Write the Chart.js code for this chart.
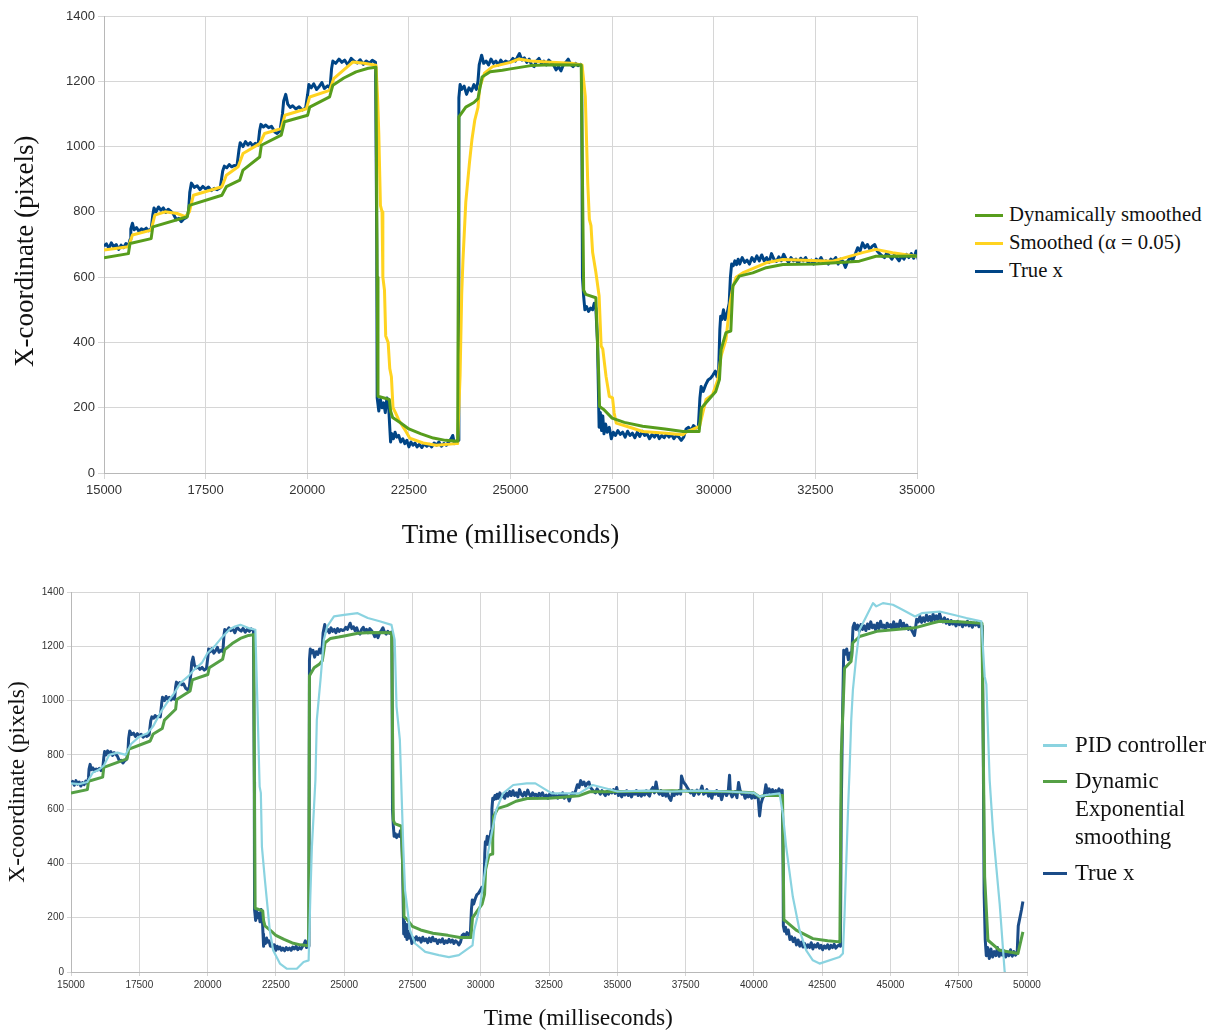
<!DOCTYPE html>
<html>
<head>
<meta charset="utf-8">
<script src="https://cdn.jsdelivr.net/npm/chart.js@4.4.0/dist/chart.umd.min.js"></script>
<style>
html,body{margin:0;padding:0;background:#fff;width:1212px;height:1033px;overflow:hidden;}
canvas{position:absolute;}
.leg{position:absolute;font-family:"Liberation Serif","Times New Roman",serif;color:#111;}
.leg .sw{position:absolute;height:3px;}
.leg .tx{position:absolute;white-space:nowrap;}
</style>
</head>
<body>
<canvas id="c1" width="960" height="560" style="left:0;top:0;width:960px;height:560px"></canvas>
<canvas id="c2" width="1050" height="473" style="left:0;top:560px;width:1050px;height:473px"></canvas>
<div class="leg" id="leg1"></div>
<div class="leg" id="leg2"></div>
<script>
// ---------- DATA (time in ms, x-coordinate in pixels) ----------
const xTicksTop = [15000,17500,20000,22500,25000,27500,30000,32500,35000];
const xTicksBottom = [15000,17500,20000,22500,25000,27500,30000,32500,35000,37500,40000,42500,45000,47500,50000];
const yTicks = [0,200,400,600,800,1000,1200,1400];

const labelsTop = ["Dynamically smoothed","Smoothed (\u03b1 = 0.05)","True x"];
const labelsBottom = ["PID controller","Dynamic Exponential smoothing","True x"];

const trueX = [
[15000,695],[15060,702],[15120,688],[15180,705],[15240,692],[15300,700],[15360,685],[15420,698],[15480,690],[15540,703],[15600,695],
[15640,715],[15660,748],[15700,765],[15740,745],[15800,752],[15860,740],[15920,748],[15980,744],[16040,750],[16100,742],[16160,748],
[16200,790],[16230,812],[16280,800],[16340,815],[16400,805],[16460,812],[16520,798],[16580,808],[16640,802],[16700,795],[16780,776],[16840,780],[16900,770],[16960,778],[17020,782],[17080,800],
[17110,860],[17150,888],[17220,875],[17290,880],[17360,868],[17430,878],[17500,870],[17570,876],[17640,865],[17710,872],[17780,868],[17860,874],
[17920,925],[17960,940],[18020,935],[18080,945],[18140,938],[18200,942],[18270,940],
[18320,990],[18350,1012],[18420,1000],[18480,1015],[18540,1005],[18600,1012],[18660,1002],[18720,1010],[18790,1005],
[18830,1050],[18860,1068],[18920,1060],[18980,1066],[19050,1058],[19120,1062],[19200,1045],[19260,1040],[19330,1048],
[19390,1100],[19420,1140],[19470,1160],[19520,1130],[19580,1120],[19640,1125],[19720,1115],[19800,1122],[19880,1112],[19960,1118],
[20010,1160],[20040,1190],[20100,1180],[20160,1192],[20230,1175],[20300,1185],[20360,1196],[20420,1178],[20500,1186],[20560,1180],
[20600,1240],[20630,1262],[20700,1255],[20780,1268],[20850,1258],[20920,1265],[21000,1250],[21080,1270],[21150,1262],[21230,1256],[21300,1266],[21380,1252],[21450,1262],[21530,1255],[21600,1264],[21680,1258],
[21710,700],[21720,230],[21760,190],[21800,225],[21840,200],[21880,215],[21920,185],[21960,230],[22000,210],[22030,140],[22050,95],[22080,120],[22120,105],[22160,125],[22200,110],[22250,115],[22300,95],[22350,105],[22400,90],[22450,100],[22500,80],[22550,95],[22600,85],[22650,92],[22700,80],[22760,88],[22820,78],[22880,90],[22940,82],[23000,88],[23060,80],[23120,92],[23180,85],[23240,95],[23300,82],[23360,90],[23420,85],[23480,95],[23540,105],[23580,115],[23620,90],[23680,95],[23710,100],
[23730,1150],[23760,1190],[23800,1175],[23860,1185],[23920,1160],[23980,1180],[24040,1170],[24100,1190],[24160,1175],[24200,1200],[24230,1250],[24290,1280],[24340,1255],[24400,1262],[24460,1250],[24520,1268],[24580,1255],[24640,1262],[24700,1250],[24760,1265],[24820,1255],[24880,1262],[24940,1258],[25000,1260],[25060,1270],[25120,1262],[25220,1285],[25280,1265],[25340,1272],[25400,1258],[25460,1268],[25520,1250],[25580,1245],[25640,1262],[25700,1270],[25760,1255],[25820,1262],[25880,1250],[25940,1265],[26000,1258],[26060,1250],[26120,1235],[26180,1245],[26240,1232],[26300,1250],[26360,1258],[26420,1268],[26480,1252],[26540,1245],[26600,1255],[26660,1248],[26720,1252],[26750,1245],
[26770,600],[26800,540],[26830,500],[26870,510],[26920,495],[26970,505],[27020,500],[27060,520],[27100,505],[27140,400],[27180,140],[27210,185],[27240,130],[27270,175],[27300,120],[27340,150],[27380,125],[27430,140],[27480,105],[27530,125],[27580,115],[27640,130],[27700,118],[27760,125],[27820,110],[27880,128],[27940,115],[28000,122],[28060,108],[28120,125],[28180,112],[28240,128],[28300,115],[28360,120],[28420,105],[28480,118],[28540,110],[28600,122],[28660,105],[28720,115],[28780,108],[28840,120],[28900,110],[28960,118],[29020,105],[29080,115],[29140,110],[29200,100],[29260,110],[29320,135],[29380,140],[29440,130],[29500,145],[29560,138],[29620,140],
[29660,230],[29690,265],[29740,250],[29800,270],[29860,285],[29920,290],[29980,300],[30040,312],[30080,295],[30120,310],[30150,440],[30170,480],[30200,470],[30240,500],[30280,470],[30330,490],[30380,520],[30410,600],[30440,640],[30480,635],[30520,650],[30560,638],[30600,655],[30640,640],[30700,660],[30760,645],[30820,652],[30880,640],[30940,660],[31000,648],[31060,665],[31120,650],[31180,668],[31240,650],[31300,660],[31360,645],[31420,672],[31480,655],[31540,648],[31600,662],[31660,650],[31720,670],[31780,655],[31840,645],[31900,660],[31960,650],[32020,655],[32080,642],[32140,658],[32200,650],[32260,660],[32320,645],[32400,652],[32460,640],[32520,655],[32580,648],[32640,660],[32700,645],[32760,650],[32820,640],[32880,655],[32940,650],[33000,660],[33060,640],[33120,655],[33180,648],[33240,630],[33300,650],[33360,660],[33420,652],[33480,670],[33540,690],[33600,680],[33660,705],[33720,690],[33780,700],[33840,685],[33900,695],[33960,700],[34020,680],[34080,672],[34140,665],[34200,660],[34260,675],[34320,665],[34380,655],[34440,668],[34500,660],[34560,650],[34620,665],[34680,655],[34740,670],[34800,660],[34860,672],[34920,658],[34980,680],
[35040,650],[35100,665],[35160,645],[35220,660],[35280,652],[35340,668],[35400,650],[35460,662],[35520,645],[35580,660],[35640,655],[35700,668],[35760,650],[35820,662],[35880,648],[35940,660],[36000,652],[36060,668],[36120,655],[36180,648],[36240,670],[36300,680],[36360,660],[36420,700],[36480,665],[36540,655],[36600,668],[36660,650],[36720,662],[36780,648],[36840,660],[36900,642],[36960,632],[37020,660],[37080,650],[37140,665],[37200,655],[37260,668],[37320,655],[37350,722],[37420,700],[37500,690],[37560,680],[37620,670],[37680,660],[37740,668],[37800,650],[37860,662],[37920,670],[37980,655],[38040,665],[38100,685],[38160,655],[38220,660],[38280,672],[38340,648],[38400,660],[38460,640],[38520,665],[38580,655],[38640,668],[38700,650],[38760,660],[38820,635],[38880,658],[38940,665],[39000,650],[39060,662],[39110,725],[39140,660],[39200,645],[39260,655],[39320,665],[39380,642],[39440,698],[39500,668],[39560,655],[39620,660],[39680,640],[39740,652],[39800,645],[39860,655],[39920,640],[39980,650],[40040,642],[40100,650],[40160,638],[40210,575],[40260,620],[40320,640],[40380,650],[40440,690],[40500,660],[40560,675],[40620,660],[40680,672],[40740,655],[40800,668],[40860,660],[40920,675],[40980,662],[41040,670],
[41070,400],[41080,170],[41120,150],[41160,165],[41200,140],[41260,155],[41320,120],[41380,130],[41440,112],[41500,125],[41560,100],[41620,118],[41680,95],[41740,110],[41800,92],[41860,105],[41920,88],[41980,100],[42040,90],[42100,108],[42160,85],[42220,100],[42280,92],[42340,105],[42400,88],[42460,98],[42520,82],[42580,96],[42640,88],[42700,100],[42760,85],[42820,98],[42880,90],[42940,102],[43000,88],[43060,95],[43120,100],[43170,95],
[43200,600],[43240,900],[43290,1185],[43340,1170],[43400,1190],[43460,1150],[43520,1175],[43580,1160],[43630,1270],[43680,1285],[43740,1262],[43800,1278],[43860,1255],[43920,1280],[43980,1262],[44040,1275],[44100,1258],[44160,1282],[44220,1265],[44280,1290],[44340,1268],[44400,1278],[44460,1260],[44520,1285],[44580,1265],[44640,1292],[44700,1270],[44760,1278],[44820,1260],[44880,1285],[44940,1272],[45000,1280],[45060,1262],[45120,1290],[45180,1268],[45240,1282],[45300,1270],[45360,1295],[45420,1272],[45480,1285],[45540,1265],[45600,1278],[45660,1262],[45720,1270],[45800,1255],[45880,1240],[45920,1268],[45960,1300],[46020,1290],[46080,1310],[46140,1288],[46200,1305],[46260,1292],[46320,1315],[46380,1295],[46440,1310],[46500,1290],[46560,1318],[46620,1298],[46680,1312],[46740,1295],[46800,1320],[46860,1300],[46920,1290],[46980,1305],[47040,1285],[47100,1298],[47160,1280],[47220,1295],[47280,1282],[47340,1290],[47400,1275],[47460,1292],[47520,1280],[47580,1288],[47640,1272],[47700,1285],[47760,1278],[47820,1292],[47880,1275],[47940,1288],[48000,1270],[48060,1285],[48120,1278],[48180,1290],[48240,1272],[48300,1285],[48360,1275],
[48400,800],[48430,290],[48470,120],[48510,60],[48560,90],[48620,50],[48680,85],[48740,55],[48800,75],[48860,60],[48920,90],[48980,58],[49040,80],[49100,62],[49160,78],[49220,55],[49280,72],[49340,60],[49400,82],[49460,58],[49520,75],[49580,62],[49640,70],[49680,170],[49740,200],[49800,230],[49850,260]
];

const dynSmoothed = [
[15000,659],[15600,672],[15640,703],[16160,718],[16200,754],[17050,785],[17100,820],[17900,851],[18010,877],[18340,897],[18420,928],[18830,968],[18870,1004],[19360,1035],[19440,1076],[20010,1096],[20060,1121],[20550,1152],[20630,1188],[20900,1210],[21200,1229],[21500,1240],[21690,1243],
[21720,600],[21740,235],[22020,225],[22050,190],[22100,170],[22300,153],[22500,135],[22800,120],[23100,107],[23400,100],[23700,97],
[23730,1091],[23900,1121],[24100,1135],[24200,1147],[24300,1213],[24500,1229],[24800,1234],[25000,1238],[25500,1248],[26000,1251],[26740,1250],
[26800,560],[26850,547],[27100,537],[27170,300],[27190,204],[27300,194],[27500,168],[27800,155],[28250,143],[28800,135],[29240,127],[29640,127],
[29700,200],[29730,204],[30050,250],[30140,286],[30180,378],[30300,430],[30420,435],[30440,491],[30470,573],[30630,603],[30960,613],[31290,629],[31700,639],[32500,640],[33000,644],[33580,649],[33990,664],[34500,664],[35000,665],[36000,665],[37000,668],[38000,665],[39000,665],[40000,660],[40200,646],[40400,650],[41050,650],
[41100,191],[41120,191],[41550,154],[42160,123],[42700,115],[43150,111],
[43200,800],[43320,1119],[43560,1144],[43620,1212],[43870,1236],[44500,1255],[45200,1262],[45900,1268],[46500,1285],[46800,1292],[47500,1290],[48350,1285],
[48450,350],[48570,117],[49000,80],[49670,68],[49850,148]
];

const smoothed05 = [
[15000,683],[15600,693],[15700,729],[16160,744],[16250,790],[16500,800],[16800,795],[17000,785],[17100,800],[17200,851],[17900,877],[18010,912],[18300,938],[18420,979],[18830,1009],[18950,1040],[19360,1055],[19450,1096],[19980,1116],[20060,1152],[20550,1172],[20650,1208],[21120,1259],[21400,1255],[21690,1249],
[21730,1150],[21760,1040],[21800,820],[21840,800],[21860,600],[21900,560],[21930,420],[21990,400],[22030,320],[22070,295],[22110,200],[22170,185],[22260,160],[22400,133],[22520,107],[22850,92],[23170,85],[23660,90],[23700,90],
[23730,200],[23760,300],[23800,550],[23830,650],[23900,830],[23990,950],[24050,1020],[24120,1080],[24200,1120],[24240,1180],[24360,1225],[24560,1245],[25000,1258],[25200,1268],[25500,1262],[26000,1258],[26500,1255],[26760,1250],
[26840,1154],[26900,889],[26940,777],[26980,758],[27020,676],[27100,615],[27180,542],[27230,389],[27270,380],[27350,296],[27430,235],[27510,230],[27550,184],[27600,153],[28010,137],[28250,127],[28830,122],[29240,117],[29320,125],[29650,143],
[29810,225],[29970,240],[30100,286],[30180,358],[30300,409],[30400,520],[30470,570],[30550,600],[30710,613],[31290,644],[31700,654],[32930,649],[33660,675],[33990,685],[34400,675],[34980,664]
];

const pidController = [
[15000,695],[15300,692],[15600,700],[15800,735],[16000,744],[16200,760],[16400,800],[16700,808],[17000,800],[17200,840],[17500,867],[17800,880],[18000,904],[18300,960],[18500,990],[18800,1030],[19000,1064],[19300,1090],[19500,1113],[19800,1140],[20000,1175],[20300,1205],[20500,1230],[20800,1262],[21000,1273],[21200,1279],[21500,1267],[21750,1261],
[21807,1052],[21906,683],[21950,660],[21990,461],[22100,338],[22277,154],[22400,80],[22648,31],[22896,12],[23267,12],[23515,37],[23700,43],
[23762,277],[23820,461],[23948,707],[24000,929],[24134,1076],[24257,1224],[24380,1273],[24628,1310],[25000,1316],[25495,1322],[25866,1304],[26300,1292],[26732,1279],
[26850,1224],[26918,978],[27040,855],[27165,461],[27230,301],[27412,154],[27600,105],[27970,74],[28465,62],[28836,55],[29200,62],[29700,98],
[29760,154],[29970,240],[30217,412],[30400,510],[30570,597],[30817,658],[31190,689],[31683,695],[32000,695],[32600,658],[33250,658],[33600,658],[34100,689],[34600,676],[35000,665],[36000,668],[37000,665],[38000,668],[39000,665],[40000,660],[40207,646],[40450,652],[40940,658],
[41061,584],[41183,461],[41427,277],[41672,154],[41916,80],[42160,43],[42405,31],[43137,55],[43260,68],
[43321,215],[43443,584],[43504,744],[43565,928],[43626,1039],[43748,1162],[43870,1261],[44115,1310],[44360,1359],[44482,1347],[44726,1359],[45092,1353],[45460,1334],[45900,1310],[46150,1322],[46800,1328],[47300,1316],[47780,1304],[48330,1292],
[48450,1089],[48511,1060],[48633,707],[48755,520],[49000,250],[49183,0],[49250,-40]
];

// ---------- HELPERS ----------
const pts = arr => arr.map(p => ({x:p[0], y:p[1]}));
const SERIF = '"Liberation Serif","Times New Roman",serif';
const SANS = '"Liberation Sans",Arial,sans-serif';

function makeChart(id, cfg){
  return new Chart(document.getElementById(id), {
    type:'line',
    data:{datasets:cfg.datasets},
    options:{
      responsive:false, animation:false, devicePixelRatio:1,
      layout:{padding:cfg.padding},
      plugins:{legend:{display:false}, tooltip:{enabled:false}},
      elements:{point:{radius:0}, line:{tension:0, borderJoinStyle:'round', borderCapStyle:'butt'}},
      scales:{
        x:{type:'linear', min:cfg.xTicks[0], max:cfg.xTicks[cfg.xTicks.length-1],
           afterBuildTicks: s => { s.ticks = cfg.xTicks.map(v=>({value:v})); },
           afterFit: s => { s.height = cfg.xH; },
           ticks:{color:'#333', font:{family:SANS, size:cfg.tickSize}, padding:cfg.xTickPad, maxRotation:0, autoSkip:false, callback:v=>String(v)},
           grid:{color:'#d6d6d6', lineWidth:1, tickLength:cfg.tickLen, drawTicks:true},
           border:{color:'#b8b8b8'},
           title:{display:true, text:cfg.xTitle, color:'#111', font:{family:SERIF, size:cfg.titleSize}, padding:{top:0,bottom:cfg.xTitlePad}}
        },
        y:{type:'linear', min:0, max:1400,
           afterBuildTicks: s => { s.ticks = yTicks.map(v=>({value:v})); },
           afterFit: s => { s.width = cfg.yW; },
           ticks:{color:'#333', font:{family:SANS, size:cfg.tickSize}, padding:3, callback:v=>String(v)},
           grid:{color:'#d6d6d6', lineWidth:1, tickLength:cfg.tickLen, drawTicks:true},
           border:{color:'#b8b8b8'},
           title:{display:true, text:cfg.yTitle, color:'#111', font:{family:SERIF, size:cfg.titleSize}, padding:{top:cfg.yTitlePad,bottom:0}}
        }
      }
    }
  });
}

// ---------- TOP CHART ----------
makeChart('c1', {
  xTicks:xTicksTop, padding:{top:16,right:43,left:0,bottom:0},
  xH:87, yW:104, tickSize:13, tickLen:6, xTickPad:4, titleSize:27, xTitlePad:8, yTitlePad:10,
  xTitle:'Time (milliseconds)', yTitle:'X-coordinate (pixels)\u2002',
  datasets:[
    {label:labelsTop[0], data:pts(dynSmoothed), borderColor:'#579d1c', borderWidth:3},
    {label:labelsTop[1], data:pts(smoothed05), borderColor:'#ffd320', borderWidth:3},
    {label:labelsTop[2], data:pts(trueX), borderColor:'#004586', borderWidth:3}
  ]
});

// ---------- BOTTOM CHART ----------
makeChart('c2', {
  xTicks:xTicksBottom, padding:{top:32,right:23,left:0,bottom:0},
  xH:61, yW:71, tickSize:10, tickLen:4, xTickPad:3, titleSize:23.5, xTitlePad:0, yTitlePad:4,
  xTitle:'\u2002\u2002\u2002\u2002\u2002Time (milliseconds)', yTitle:'X-coordinate (pixels)',
  datasets:[
    {label:labelsBottom[0], data:pts(pidController), borderColor:'#8ad3e0', borderWidth:2.2},
    {label:labelsBottom[1], data:pts(dynSmoothed), borderColor:'#55a045', borderWidth:3},
    {label:labelsBottom[2], data:pts(trueX), borderColor:'#1b4c88', borderWidth:3}
  ]
});

// ---------- LEGENDS ----------
function legend(id, items){
  const el = document.getElementById(id);
  items.forEach(it => {
    const sw = document.createElement('div');
    sw.className='sw'; sw.style.left=it.sx+'px'; sw.style.top=(it.sy-1)+'px'; sw.style.width=it.sw+'px'; sw.style.background=it.c;
    el.appendChild(sw);
    it.lines.forEach((ln,i)=>{
      const t = document.createElement('div');
      t.className='tx'; t.textContent=ln;
      t.style.left=it.tx+'px'; t.style.top=(it.sy - it.fs*0.62 + i*it.lh)+'px'; t.style.fontSize=it.fs+'px'; t.style.lineHeight=(it.fs*1.2)+'px';
      el.appendChild(t);
    });
  });
}
legend('leg1', [
  {c:'#579d1c', lines:[labelsTop[0]], sx:975, sy:215, sw:28, tx:1009, fs:20.7, lh:24},
  {c:'#ffd320', lines:[labelsTop[1]], sx:975, sy:243, sw:28, tx:1009, fs:20.7, lh:24},
  {c:'#004586', lines:[labelsTop[2]], sx:975, sy:271, sw:28, tx:1009, fs:20.7, lh:24}
]);
legend('leg2', [
  {c:'#8ad3e0', lines:[labelsBottom[0]], sx:1043, sy:745, sw:24, tx:1075, fs:22.8, lh:28},
  {c:'#55a045', lines:['Dynamic','Exponential','smoothing'], sx:1043, sy:781, sw:24, tx:1075, fs:22.8, lh:28},
  {c:'#1b4c88', lines:[labelsBottom[2]], sx:1043, sy:873, sw:24, tx:1075, fs:22.8, lh:28}
]);
</script>
</body>
</html>
